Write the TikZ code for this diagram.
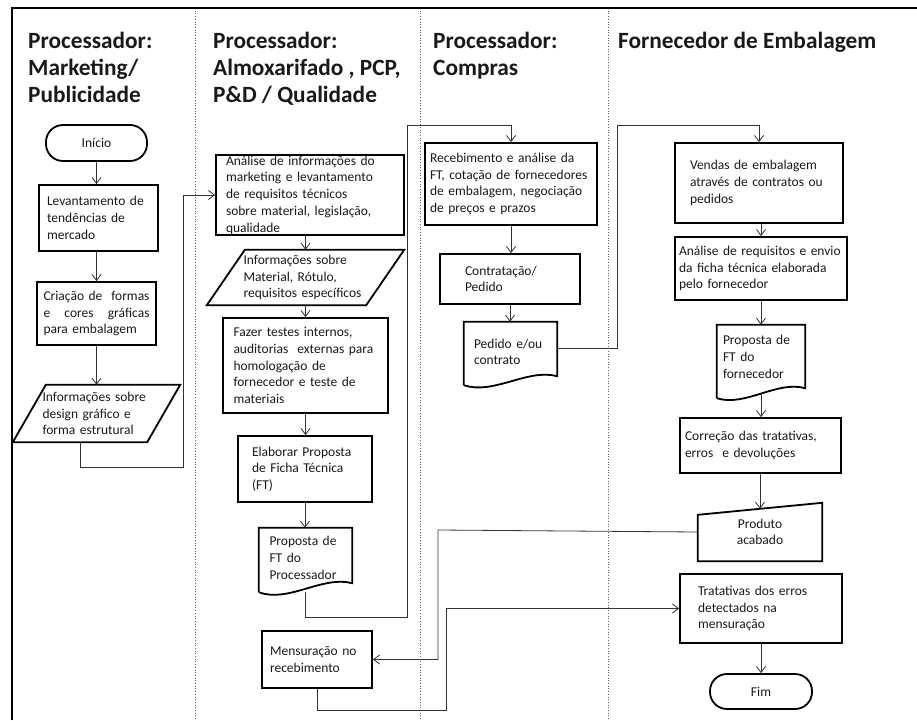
\documentclass[tikz,border=0pt]{standalone}
\usepackage{fontspec}
\setmainfont{Carlito}
\usetikzlibrary{arrows.meta}
\begin{document}
\begin{tikzpicture}[x=1pt,y=-1pt,
  every node/.style={font=\fontsize{13.5}{16.7}\selectfont, text=black!90},
  box/.style={draw=black, line width=1.8pt, inner xsep=4pt, inner ysep=2pt, align=left},
  shp/.style={inner xsep=4pt, inner ysep=2pt, align=left},
  outline/.style={draw=black, line width=1.8pt},
  term/.style={draw=black, line width=1.8pt, rounded corners=17pt, align=center},
  head/.style={anchor=north west, inner sep=0pt, align=left, font=\fontsize{23.3}{27}\selectfont\bfseries},
  link/.style={draw=black!80, line width=0.8pt},
  arr/.style={link, -{Straight Barb[length=6pt,width=9pt]}},
  lane/.style={draw=black!60, line width=0.7pt, dotted}]
      \useasboundingbox (0,0) rectangle (917,720);
%
      \foreach \x in {195,420,608} \draw[lane] (\x,8) -- (\x,720);
      \draw[line width=2.5pt] (12,720) -- (12,8) -- (917,8);
%
      \node[head] (hmkt) at (28,32) {Processador:\\Marketing/\\Publicidade};
      \node[head] (halm) at (213,32) {Processador:\\Almoxarifado , PCP,\\P\&D / Qualidade};
      \node[head] (hcomp) at (433,32) {Processador:\\Compras};
      \node[head] (hforn) at (618,32) {Fornecedor de Embalagem};
%
      % marketing
      \node[term, minimum width=101pt, minimum height=36pt] (inicio) at (96.5,143) {Início};
      \node[box, minimum width=119pt, minimum height=66pt, text width=103pt] (levant) at (98.5,218) {Levantamento de\\tendências de\\mercado};
      \node[box, minimum width=119pt, minimum height=63pt, text width=106pt] (criacao) at (96.5,313.5) {Criação de\hfill formas\\e\hfill cores\hfill gráficas\\para embalagem};
      \node[shp, minimum width=167pt, minimum height=57pt, text width=108pt] (infodes) at (96.5,413.5) {Informações sobre\\design gráfico e\\forma estrutural};
      \draw[outline] ([xshift=33pt]infodes.north west) -- (infodes.north east) -- ([xshift=-33pt]infodes.south east) -- (infodes.south west) -- cycle;
%
      % almoxarifado
      \node[box, minimum width=188pt, minimum height=80pt, text width=168pt, inner ysep=0pt] (analise) at (310,195) {Análise de informações do\\marketing e levantamento\\de requisitos técnicos\\sobre material, legislação,\\qualidade};
      \node[shp, minimum width=197pt, minimum height=55pt, text width=124pt] (infomat) at (305.5,277.5) {Informações sobre\\Material, Rótulo,\\requisitos específicos};
      \draw[outline] ([xshift=38pt]infomat.north west) -- (infomat.north east) -- ([xshift=-38pt]infomat.south east) -- (infomat.south west) -- cycle;
      \node[box, minimum width=165pt, minimum height=95pt, text width=144pt] (testes) at (305.5,365.5) {Fazer testes internos,\\auditorias~ externas para\\homologação de\\fornecedor e teste de\\materiais};
      \node[box, minimum width=134pt, minimum height=66pt, text width=106pt] (elabora) at (305,469) {Elaborar Proposta\\de Ficha Técnica\\(FT)};
      \node[shp, minimum width=93pt, minimum height=60pt, text width=72pt] (propproc) at (305.5,558) {Proposta de\\FT do\\Processador};
      \draw[outline] ([yshift=-4pt]propproc.south west) -- (propproc.north west) -- (propproc.north east) -- ([yshift=5pt]propproc.south east) .. controls ([xshift=17pt,yshift=13pt]propproc.south) and ([xshift=-17pt,yshift=-15pt]propproc.south) .. ([yshift=-4pt]propproc.south west);
      \node[box, minimum width=110pt, minimum height=57pt, text width=94pt] (mensur) at (317,659.5) {Mensuração no\\recebimento};
%
      % compras
      \node[box, minimum width=172pt, minimum height=82pt, text width=162pt] (receb) at (511,184) {Recebimento e análise da\\FT, cotação de fornecedores\\de embalagem, negociação\\de preços e prazos};
      \node[box, minimum width=140pt, minimum height=50pt, text width=90pt] (contrat) at (510,279) {Contratação/\\Pedido};
      \node[shp, minimum width=93pt, minimum height=60pt, text width=73pt] (pedido) at (510.5,352) {Pedido e/ou\\contrato};
      \draw[outline] ([yshift=-3pt]pedido.south west) -- (pedido.north west) -- (pedido.north east) -- ([yshift=6pt]pedido.south east) .. controls ([xshift=17pt,yshift=14pt]pedido.south) and ([xshift=-17pt,yshift=-13pt]pedido.south) .. ([yshift=-3pt]pedido.south west);
%
      % fornecedor
      \node[box, minimum width=168pt, minimum height=80pt, text width=138pt] (vendas) at (759,183) {Vendas de embalagem\\através de contratos ou\\pedidos};
      \node[box, minimum width=172pt, minimum height=63pt, text width=164pt] (requis) at (761,268.5) {Análise de requisitos e envio\\da ficha técnica elaborada\\pelo fornecedor};
      \node[shp, minimum width=88pt, minimum height=64pt, text width=76pt] (propforn) at (761,357) {Proposta de\\FT do\\fornecedor};
      \draw[outline] ([yshift=-9pt]propforn.south west) -- (propforn.north west) -- (propforn.north east) -- ([yshift=1pt]propforn.south east) .. controls ([xshift=16pt,yshift=9pt]propforn.south) and ([xshift=-16pt,yshift=-18pt]propforn.south) .. ([yshift=-9pt]propforn.south west);
      \node[box, minimum width=161pt, minimum height=55pt, text width=151pt] (correcao) at (760.5,445.5) {Correção das tratativas,\\erros~ e devoluções};
      \node[shp, align=center, minimum width=124pt, minimum height=58pt, text width=110pt] (produto) at (760,532) {Produto\\acabado};
      \draw[outline] (produto.south west) -- ([yshift=-12pt]produto.north west) -- (produto.north east) -- (produto.south east) -- cycle;
      \node[box, minimum width=162pt, minimum height=69pt, text width=126pt] (tratat) at (761,608.5) {Tratativas dos erros\\detectados na\\mensuração};
      \node[term, minimum width=102pt, minimum height=35pt] (fim) at (761,691.5) {Fim};
%
      \coordinate (j1) at (183,467);
      \coordinate (j2) at (407,617);
      \coordinate (j3) at (407,125);
      \coordinate (j4) at (617,125);
      \coordinate (j5) at (438,530);
      \coordinate (j6) at (446,710);
%
      \draw[arr] (inicio.south) -- (inicio.south |- levant.north);
      \draw[arr] (criacao.north |- levant.south) -- (criacao.north);
      \draw[arr] (criacao.south) -- (criacao.south |- infodes.north);
      \draw[arr] ([xshift=-16pt]infodes.south) |- (j1) |- (analise.west);
      \draw[arr] (analise.south -| infomat.north) -- (infomat.north);
      \draw[arr] (infomat.south) -- (testes.north);
      \draw[arr] (testes.south) -- (testes.south |- elabora.north);
      \draw[arr] (elabora.south) -- (elabora.south |- propproc.north);
      \draw[arr] ([yshift=-4pt]propproc.south) |- (j2) -- (j3) -| (receb.north);
      \draw[arr] (receb.south) -- (receb.south |- contrat.north);
      \draw[arr] (contrat.south) -- (contrat.south |- pedido.north);
      \draw[arr] ([yshift=4pt]pedido.east) -| (j4) -| (vendas.north);
      \draw[arr] (vendas.south -| requis.north) -- (requis.north);
      \draw[arr] (requis.south) -- (propforn.north);
      \draw[arr] ([yshift=-4pt]propforn.south) -- (propforn.south |- correcao.north);
      \draw[arr] (correcao.south -| produto.north) -- ([yshift=-6pt]produto.north);
      \draw[arr] (produto.west) -- (j5) |- (mensur.east);
      \draw[arr] (mensur.south) |- (j6) |- (tratat.west);
      \draw[arr] (tratat.south) -- (tratat.south |- fim.north);
%
      \end{tikzpicture}
\end{document}
